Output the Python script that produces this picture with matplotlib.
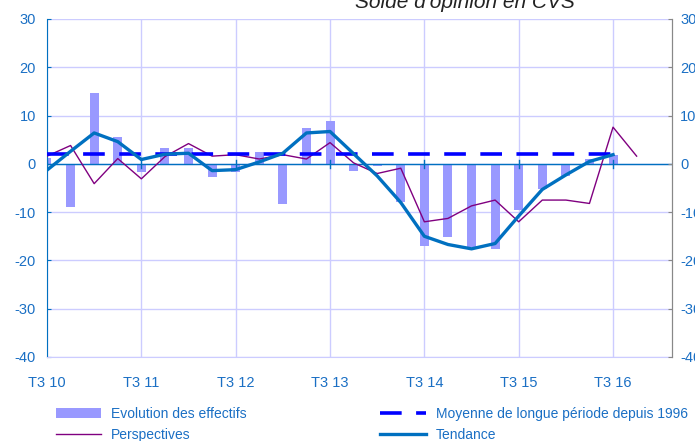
import numpy as np
import matplotlib.pyplot as plt

# --- DATA (quarterly from T3 2010) ---
tick_labels = ['T3 10', 'T3 11', 'T3 12', 'T3 13', 'T3 14', 'T3 15', 'T3 16']

effectifs = [1.3, -8.9, 14.6, 5.6, -1.6, 3.2, 3.2, -2.7, -1.6, 2.5, -8.4, 7.5, 8.9,
             -1.4, -0.5, -7.9, -17.0, -15.1, -17.2, -17.7, -9.6, -5.3, -2.5, 1.1, 1.8]
perspectives = [1.6, 3.8, -4.1, 1.1, -3.1, 1.5, 4.2, 1.6, 1.9, 1.0, 1.9, 1.0, 4.4,
                0.2, -2.0, -0.9, -12.0, -11.3, -8.7, -7.5, -12.0, -7.5, -7.5, -8.2, 7.6, 1.6]
tendance = [-1.3, 2.6, 6.4, 4.6, 0.9, 2.0, 2.2, -1.4, -1.2, 0.4, 2.2, 6.4, 6.7,
            2.1, -2.5, -8.0, -15.0, -16.7, -17.6, -16.5, -10.8, -5.3, -2.3, 0.5, 1.9]
moyenne = 2.0

plt.rcParams['font.family'] = ['Liberation Sans', 'DejaVu Sans']
plt.rcParams['axes.unicode_minus'] = False
BLUE_TXT = '#1a6fc4'

fig = plt.figure(figsize=(6.95, 4.41), dpi=100)
ax = fig.add_axes([47 / 695, 1 - 357 / 441, 625 / 695, 338 / 441])

x_bar = np.arange(len(effectifs))
x_persp = np.arange(len(perspectives))
x_tend = np.arange(len(tendance))

h_bar = ax.bar(x_bar, effectifs, width=0.38, color='#9999ff', zorder=2)
h_persp, = ax.plot(x_persp, perspectives, color='#800080', lw=1.0, zorder=3)
h_moy, = ax.plot([0, len(tendance) - 1], [moyenne, moyenne], color='#0000ff', lw=2.6,
                 dashes=(6, 4), zorder=4)
h_tend, = ax.plot(x_tend, tendance, color='#0070c0', lw=2.4, zorder=5)
ax.axhline(0, color='#0070c0', lw=1.0, zorder=2.5)

# year ticks crossing the zero line
year_pos = np.arange(0, 25, 4)
for xp in year_pos:
    ax.plot([xp, xp], [-0.8, 0.8], color='#0070c0', lw=1.0, zorder=2.5)

ax.set_xlim(0, 26.5)
ax.set_ylim(-40, 30)
ax.set_xticks(year_pos)
ax.set_xticklabels(tick_labels)
ax.set_yticks(np.arange(-40, 31, 10))
ax.grid(True, color='#ccccff', lw=1.0, zorder=0)
ax.set_axisbelow(True)

ax.tick_params(axis='x', length=0, pad=14, labelsize=10.5, labelcolor=BLUE_TXT)
ax.tick_params(axis='y', direction='in', length=3, color='#0070c0',
               labelsize=10.5, labelcolor=BLUE_TXT, pad=8)

ax.spines['left'].set_color('#0070c0')
ax.spines['top'].set_visible(False)
ax.spines['bottom'].set_color('#ccccff')
ax.spines['right'].set_color('#888888')

ax2 = ax.twinx()
ax2.set_ylim(-40, 30)
ax2.set_yticks(np.arange(-40, 31, 10))
ax2.tick_params(axis='y', direction='in', length=3, color='#888888',
                labelsize=10.5, labelcolor=BLUE_TXT, pad=6)
for s in ['top', 'left', 'bottom']:
    ax2.spines[s].set_visible(False)
ax2.spines['right'].set_color('#888888')

fig.text(355 / 695, 1 - 8 / 441, "Solde d'opinion en CVS", fontsize=15, style='italic',
         ha='left', va='baseline', color='#222222')

leg = fig.legend([h_bar, h_persp, h_moy, h_tend],
                 ['Evolution des effectifs', 'Perspectives',
                  'Moyenne de longue période depuis 1996', 'Tendance'],
                 loc='lower left', bbox_to_anchor=(0.062, -0.03), ncol=2,
                 frameon=False, fontsize=10, handlelength=3.3, columnspacing=9.6,
                 labelspacing=0.5, handletextpad=0.7)
for t in leg.get_texts():
    t.set_color(BLUE_TXT)

fig.savefig('out.png', dpi=100)
